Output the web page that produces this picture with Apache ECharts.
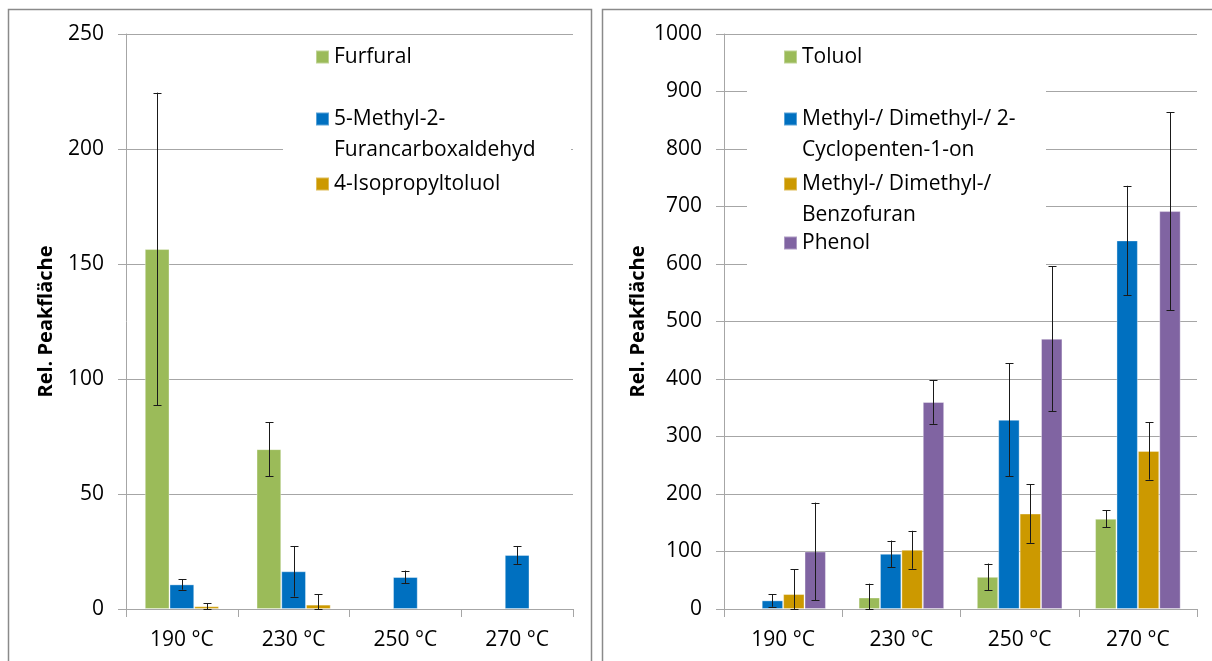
<!DOCTYPE html>
<html>
<head>
<meta charset="utf-8">
<script src="https://cdn.jsdelivr.net/npm/echarts@6/dist/echarts.min.js"></script>
<style>
html,body{margin:0;padding:0;background:#fff;}
#chart{width:1212px;height:661px;}
</style>
</head>
<body>
<div id="chart"></div>
<script>
// ---- data ----
const categories = ['190 °C', '230 °C', '250 °C', '270 °C'];

// left panel
const furfural = [156.5, 69.5, null, null];
const furfuralErr = [68, 11.8, null, null];
const methylFurancarbox = [10.7, 16.4, 13.9, 23.5];
const methylFurancarboxErr = [2.3, 11, 2.8, 3.9];
const isopropyltoluol = [1.2, 1.9, null, null];
const isopropyltoluolErr = [1.3, 4.6, null, null];

// right panel
const toluol = [null, 20, 56, 157];
const toluolErr = [null, 24, 23, 15];
const cyclopentenon = [15, 96, 329, 641];
const cyclopentenonErr = [11, 23, 98, 95];
const benzofuran = [26, 103, 166, 275];
const benzofuranErr = [43, 33, 51, 50];
const phenol = [100, 360, 470, 692];
const phenolErr = [85, 38, 126, 172];

// series names and their (wrapped) legend lines
const names = {
  furfural: 'Furfural',
  methylFurancarbox: '5-Methyl-2-Furancarboxaldehyd',
  isopropyltoluol: '4-Isopropyltoluol',
  toluol: 'Toluol',
  cyclopentenon: 'Methyl-/ Dimethyl-/ 2-Cyclopenten-1-on',
  benzofuran: 'Methyl-/ Dimethyl-/ Benzofuran',
  phenol: 'Phenol'
};
const legendLines = {
  'Furfural': ['Furfural'],
  '5-Methyl-2-Furancarboxaldehyd': ['5-Methyl-2-', 'Furancarboxaldehyd'],
  '4-Isopropyltoluol': ['4-Isopropyltoluol'],
  'Toluol': ['Toluol'],
  'Methyl-/ Dimethyl-/ 2-Cyclopenten-1-on': ['Methyl-/ Dimethyl-/ 2-', 'Cyclopenten-1-on'],
  'Methyl-/ Dimethyl-/ Benzofuran': ['Methyl-/ Dimethyl-/', 'Benzofuran'],
  'Phenol': ['Phenol']
};

const leftTicks = {min: 0, max: 250, interval: 50};
const rightTicks = {min: 0, max: 1000, interval: 100};

const yTitle = 'Rel. Peakfläche';

// ---- style ----
const FONT = 'Open Sans';
const GREEN = '#9BBB59', BLUE = '#0070C0', ORANGE = '#CC9900', PURPLE = '#8064A2';
const GRIDC = '#a6a6a6';

const LEFT_GAP = 0.336, RIGHT_GAP = 0.276;

function barSeries(name, data, color, axis, gap) {
  return {
    type: 'bar', name: name, data: data,
    xAxisIndex: axis, yAxisIndex: axis,
    barGap: 0, barCategoryGap: (gap * 100) + '%',
    itemStyle: {color: color, borderColor: 'rgba(255,255,255,0.35)', borderWidth: 1},
    z: 2
  };
}

function errSeries(values, errs, idx, n, axis, gap) {
  const d = [];
  values.forEach((v, i) => { if (v != null && errs[i] != null) d.push([i, v, errs[i]]); });
  return {
    type: 'custom', xAxisIndex: axis, yAxisIndex: axis, z: 5, silent: true,
    data: d,
    renderItem: function (params, api) {
      const ci = api.value(0), v = api.value(1), e = api.value(2);
      const center = api.coord([ci, v]);
      const band = api.size([1, 0])[0];
      const groupW = band * (1 - gap);
      const bw = groupW / n;
      const x = Math.round(center[0] - groupW / 2 + bw * (idx + 0.5)) + 0.5;
      const top = api.coord([ci, v + e])[1];
      const bot = api.coord([ci, Math.max(0, v - e)])[1];
      const cw = 4;
      const st = {stroke: '#1a1a1a', lineWidth: 1};
      return {
        type: 'group',
        children: [
          {type: 'line', shape: {x1: x, y1: top, x2: x, y2: bot}, style: st},
          {type: 'line', shape: {x1: x - cw, y1: Math.round(top) + 0.5, x2: x + cw, y2: Math.round(top) + 0.5}, style: st},
          {type: 'line', shape: {x1: x - cw, y1: Math.round(bot) + 0.5, x2: x + cw, y2: Math.round(bot) + 0.5}, style: st}
        ]
      };
    }
  };
}

function xAxis(gi) {
  return {
    type: 'category', gridIndex: gi, data: categories,
    axisLine: {lineStyle: {color: GRIDC, width: 1}},
    axisTick: {show: true, length: 8, lineStyle: {color: GRIDC}},
    axisLabel: {fontFamily: FONT, fontSize: 21, color: '#000', margin: 21}
  };
}
function yAxis(gi, t, gap) {
  return {
    type: 'value', gridIndex: gi, min: t.min, max: t.max, interval: t.interval,
    name: yTitle, nameLocation: 'middle', nameGap: gap, nameRotate: 90,
    nameTextStyle: {fontFamily: FONT, fontSize: 20, fontWeight: 'bold', color: '#000'},
    axisLine: {show: true, lineStyle: {color: GRIDC, width: 1}},
    axisTick: {show: true, length: 8, lineStyle: {color: GRIDC}},
    axisLabel: {fontFamily: FONT, fontSize: 21, color: '#000', margin: 22,
      formatter: function (v) { return String(v); }},
    splitLine: {show: true, lineStyle: {color: GRIDC, width: 1}}
  };
}

// one legend per item; multi-line items get a blank leading line so that
// the first text line sits beside the colour square
function legendItem(name, left, centerY) {
  const lh = 31;
  const lines = legendLines[name];
  const multi = lines.length > 1;
  return {
    data: [name], left: left, top: multi ? centerY - lh * 1.5 : centerY - lh / 2,
    orient: 'vertical', padding: 0, itemWidth: 13, itemHeight: 13,
    icon: 'rect', selectedMode: false,
    formatter: function (n) {
      const l = legendLines[n];
      return l.length > 1 ? ' \n' + l.join('\n') : l[0];
    },
    textStyle: {fontFamily: FONT, fontSize: 21, color: '#000', lineHeight: lh}
  };
}

const chart = echarts.init(document.getElementById('chart'), null, {renderer: 'canvas'});
const option = {
  animation: false,
  backgroundColor: '#fff',
  grid: [
    {left: 126, top: 34, width: 447, height: 575},
    {left: 724, top: 34, width: 473, height: 575}
  ],
  xAxis: [xAxis(0), xAxis(1)],
  yAxis: [yAxis(0, leftTicks, 70), yAxis(1, rightTicks, 76)],
  legend: [
    legendItem(names.furfural, 315, 57),
    legendItem(names.methylFurancarbox, 315, 119),
    legendItem(names.isopropyltoluol, 315, 184),
    legendItem(names.toluol, 783, 57),
    legendItem(names.cyclopentenon, 783, 119),
    legendItem(names.benzofuran, 783, 184),
    legendItem(names.phenol, 783, 243)
  ],
  graphic: [
    {type: 'rect', z: 3, shape: {x: 283, y: 36, width: 288, height: 164}, style: {fill: '#fff'}},
    {type: 'rect', z: 3, shape: {x: 747, y: 36, width: 299, height: 234}, style: {fill: '#fff'}},
    {type: 'rect', z: 10, shape: {x: 8.5, y: 9.5, width: 583, height: 700}, style: {fill: 'none', stroke: '#8a8a8a', lineWidth: 1.5}},
    {type: 'rect', z: 10, shape: {x: 602.5, y: 9.5, width: 700, height: 700}, style: {fill: 'none', stroke: '#8a8a8a', lineWidth: 1.5}}
  ],
  series: [
    barSeries(names.furfural, furfural, GREEN, 0, LEFT_GAP),
    barSeries(names.methylFurancarbox, methylFurancarbox, BLUE, 0, LEFT_GAP),
    barSeries(names.isopropyltoluol, isopropyltoluol, ORANGE, 0, LEFT_GAP),
    errSeries(furfural, furfuralErr, 0, 3, 0, LEFT_GAP),
    errSeries(methylFurancarbox, methylFurancarboxErr, 1, 3, 0, LEFT_GAP),
    errSeries(isopropyltoluol, isopropyltoluolErr, 2, 3, 0, LEFT_GAP),
    barSeries(names.toluol, toluol, GREEN, 1, RIGHT_GAP),
    barSeries(names.cyclopentenon, cyclopentenon, BLUE, 1, RIGHT_GAP),
    barSeries(names.benzofuran, benzofuran, ORANGE, 1, RIGHT_GAP),
    barSeries(names.phenol, phenol, PURPLE, 1, RIGHT_GAP),
    errSeries(toluol, toluolErr, 0, 4, 1, RIGHT_GAP),
    errSeries(cyclopentenon, cyclopentenonErr, 1, 4, 1, RIGHT_GAP),
    errSeries(benzofuran, benzofuranErr, 2, 4, 1, RIGHT_GAP),
    errSeries(phenol, phenolErr, 3, 4, 1, RIGHT_GAP)
  ]
};
chart.setOption(option);
</script>
</body>
</html>
